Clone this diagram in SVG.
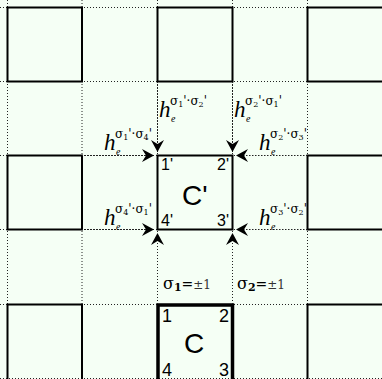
<svg xmlns="http://www.w3.org/2000/svg" width="382" height="379" viewBox="0 0 382 379">
<defs>
<style>
.grid{stroke:#222;stroke-width:1;stroke-dasharray:1 2;fill:none}
.sq{fill:none;stroke:#000;stroke-width:2}
.sqc{fill:none;stroke:#000;stroke-width:3.5}
.arr{stroke:#222;stroke-width:1;stroke-dasharray:1 2;fill:none;marker-end:url(#ah)}
.h{font-family:"Liberation Serif",serif;font-style:italic;font-size:23px;fill:#000}
.e{font-family:"Liberation Serif",serif;font-style:italic;font-size:10px;fill:#000}
.sup{font-family:"DejaVu Serif","Liberation Serif",serif;font-size:12px;fill:#000}
.n{font-family:"Liberation Sans",Arial,sans-serif;font-size:16px;fill:#000}
.nc{font-family:"Liberation Sans",Arial,sans-serif;font-size:18px;fill:#000}
.big{font-family:"Liberation Sans",Arial,sans-serif;font-size:28px;fill:#000}
.sig{font-family:"DejaVu Serif","Liberation Serif",serif;font-size:16px;fill:#000}
</style>
<marker id="ah" markerUnits="userSpaceOnUse" markerWidth="14" markerHeight="14" refX="12" refY="7" orient="auto">
<path d="M0,0.5 L12,7 L0,13.5 L4,7 Z" fill="#000"/>
</marker>
</defs>
<rect width="382" height="379" fill="#f5fff5"/>
<g id="grid">
<line class="grid" x1="0" y1="7.5" x2="382" y2="7.5"/>
<line class="grid" x1="0" y1="81.5" x2="382" y2="81.5"/>
<line class="grid" x1="0" y1="155.5" x2="382" y2="155.5"/>
<line class="grid" x1="0" y1="229.5" x2="382" y2="229.5"/>
<line class="grid" x1="0" y1="304.5" x2="382" y2="304.5"/>
<line class="grid" x1="0" y1="378.5" x2="382" y2="378.5"/>
<line class="grid" x1="7.5" y1="0" x2="7.5" y2="379"/>
<line class="grid" x1="82" y1="0" x2="82" y2="379"/>
<line class="grid" x1="157.5" y1="0" x2="157.5" y2="379"/>
<line class="grid" x1="232.5" y1="0" x2="232.5" y2="379"/>
<line class="grid" x1="307.5" y1="0" x2="307.5" y2="379"/>
</g>
<g id="cell-r1c1"><rect class="sq" x="7.5" y="7.5" width="74.5" height="74"/></g>
<g id="cell-r1c2"><rect class="sq" x="157.5" y="7.5" width="75" height="74"/></g>
<g id="cell-r1c3"><rect class="sq" x="307.5" y="7.5" width="80" height="74"/></g>
<g id="cell-r2c1"><rect class="sq" x="7.5" y="155.5" width="74.5" height="74"/></g>
<g id="cell-Cprime">
<rect class="sq" x="157.5" y="155.5" width="75" height="74"/>
<text class="n" x="161" y="170">1'</text>
<text class="n" x="217" y="170">2'</text>
<text class="n" x="161" y="226">4'</text>
<text class="n" x="217" y="226">3'</text>
<text class="big" x="182" y="205">C'</text>
</g>
<g id="cell-r2c3"><rect class="sq" x="307.5" y="155.5" width="80" height="74"/></g>
<g id="cell-r3c1"><rect class="sq" x="7.5" y="304.5" width="74.5" height="80"/></g>
<g id="cell-C">
<rect class="sqc" x="158" y="305" width="74.5" height="80"/>
<text class="nc" x="162" y="322">1</text>
<text class="nc" x="219" y="322">2</text>
<text class="nc" x="162" y="376">4</text>
<text class="nc" x="219" y="376">3</text>
<text class="big" x="184" y="353">C</text>
</g>
<g id="cell-r3c3"><rect class="sq" x="307.5" y="304.5" width="80" height="80"/></g>
<g id="connectors">
<line class="arr" x1="157.5" y1="82" x2="157.5" y2="152"/>
<line class="arr" x1="232.5" y1="82" x2="232.5" y2="152"/>
<line class="arr" x1="82" y1="155.5" x2="154" y2="155.5"/>
<line class="arr" x1="82" y1="229.5" x2="154" y2="229.5"/>
<line class="arr" x1="307.5" y1="155.5" x2="236" y2="155.5"/>
<line class="arr" x1="307.5" y1="229.5" x2="236" y2="229.5"/>
<line class="arr" x1="157.5" y1="304" x2="157.5" y2="233"/>
<line class="arr" x1="232.5" y1="304" x2="232.5" y2="233"/>
</g>
<g id="labels">
<text class="h" x="159" y="117">h</text><text class="e" x="171" y="122">e</text>
<text class="sup" x="170" y="105">σ<tspan font-size="8" dy="2">1</tspan><tspan dy="-2">'·σ</tspan><tspan font-size="8" dy="2">2</tspan><tspan dy="-2">'</tspan></text>
<text class="h" x="234" y="117">h</text><text class="e" x="246" y="122">e</text>
<text class="sup" x="245" y="105">σ<tspan font-size="8" dy="2">2</tspan><tspan dy="-2">'·σ</tspan><tspan font-size="8" dy="2">1</tspan><tspan dy="-2">'</tspan></text>
<text class="h" x="104" y="150">h</text><text class="e" x="116" y="155">e</text>
<text class="sup" x="115" y="138">σ<tspan font-size="8" dy="2">1</tspan><tspan dy="-2">'·σ</tspan><tspan font-size="8" dy="2">4</tspan><tspan dy="-2">'</tspan></text>
<text class="h" x="259" y="150">h</text><text class="e" x="271" y="155">e</text>
<text class="sup" x="270" y="138">σ<tspan font-size="8" dy="2">2</tspan><tspan dy="-2">'·σ</tspan><tspan font-size="8" dy="2">3</tspan><tspan dy="-2">'</tspan></text>
<text class="h" x="104" y="225">h</text><text class="e" x="116" y="230">e</text>
<text class="sup" x="115" y="213">σ<tspan font-size="8" dy="2">4</tspan><tspan dy="-2">'·σ</tspan><tspan font-size="8" dy="2">1</tspan><tspan dy="-2">'</tspan></text>
<text class="h" x="259" y="225">h</text><text class="e" x="271" y="230">e</text>
<text class="sup" x="270" y="213">σ<tspan font-size="8" dy="2">3</tspan><tspan dy="-2">'·σ</tspan><tspan font-size="8" dy="2">2</tspan><tspan dy="-2">'</tspan></text>
<text class="sig" x="163" y="289">σ<tspan font-size="11" font-weight="bold" dy="2">1</tspan><tspan font-size="14" dy="-2">=</tspan><tspan font-size="12" fill="#333">±1</tspan></text>
<text class="sig" x="237" y="289">σ<tspan font-size="11" font-weight="bold" dy="2">2</tspan><tspan font-size="14" dy="-2">=</tspan><tspan font-size="12" fill="#333">±1</tspan></text>
</g>
</svg>
